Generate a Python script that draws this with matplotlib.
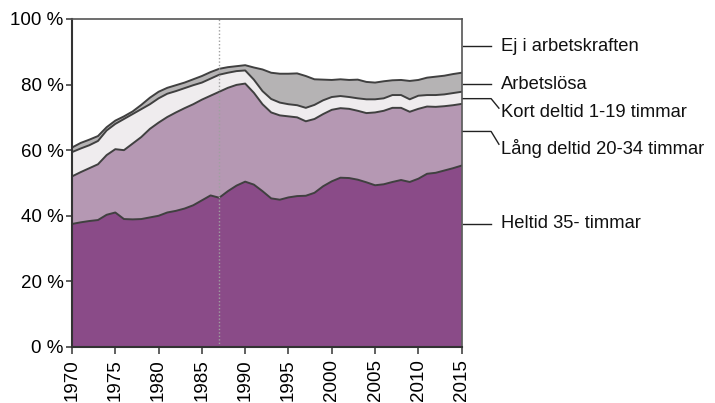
import numpy as np
import matplotlib
matplotlib.use("Agg")
import matplotlib.pyplot as plt

plt.rcParams['font.family'] = ['Liberation Sans', 'DejaVu Sans']

years = np.arange(1970, 2016)

# andel av befolkningen, procent
heltid = [37.5, 38.0, 38.4, 38.7, 40.3, 41.0, 39.0, 38.9, 39.0, 39.5,
          40.0, 41.0, 41.5, 42.2, 43.2, 44.7, 46.2, 45.5, 47.5, 49.2,
          50.4, 49.5, 47.5, 45.3, 44.9, 45.6, 46.0, 46.1, 47.0, 49.0,
          50.5, 51.6, 51.5, 51.0, 50.2, 49.3, 49.6, 50.3, 50.9, 50.3,
          51.3, 52.8, 53.1, 53.8, 54.5, 55.3]
lang_deltid = [14.5, 15.3, 16.1, 17.0, 18.2, 19.3, 21.0, 23.1, 25.0, 27.0,
               28.4, 29.1, 30.0, 30.6, 30.8, 30.7, 30.4, 32.3, 31.5, 30.7,
               29.9, 28.0, 26.5, 26.2, 25.7, 24.7, 24.0, 22.7, 22.5, 22.0,
               21.8, 21.2, 21.1, 21.0, 21.1, 22.2, 22.4, 22.6, 22.0, 21.4,
               21.3, 20.5, 20.1, 19.6, 19.2, 18.8]
kort_deltid = [7.4, 7.2, 7.0, 7.1, 7.5, 7.7, 9.5, 9.0, 8.5, 7.5,
               7.4, 7.1, 6.5, 6.1, 5.8, 5.2, 5.2, 5.2, 4.6, 4.2,
               4.0, 4.0, 4.0, 4.1, 3.9, 3.7, 3.7, 4.1, 4.3, 4.2,
               3.9, 3.7, 3.6, 3.8, 4.2, 4.0, 3.8, 3.9, 3.9, 3.8,
               4.0, 3.5, 3.6, 3.6, 3.7, 3.7]
arbetslosa = [1.4, 1.7, 1.7, 1.5, 1.0, 1.0, 0.8, 0.8, 1.3, 2.0,
              2.0, 1.8, 1.8, 1.7, 1.8, 2.0, 2.0, 1.8, 1.7, 1.5,
              1.6, 3.7, 6.6, 8.0, 8.8, 9.3, 9.7, 9.7, 7.8, 6.3,
              5.2, 5.1, 5.2, 5.7, 5.3, 5.1, 5.2, 4.5, 4.6, 5.6,
              4.8, 5.3, 5.6, 5.7, 5.8, 5.8]
ej_i_arbetskraften = 100 - (np.array(heltid) + np.array(lang_deltid)
                            + np.array(kort_deltid) + np.array(arbetslosa))

labels = ["Heltid 35- timmar", "Lång deltid 20-34 timmar",
          "Kort deltid 1-19 timmar", "Arbetslösa", "Ej i arbetskraften"]
colors = ["#8a4b88", "#b598b3", "#efecee", "#b5b3b4", "#ffffff"]

fig = plt.figure(figsize=(7.15, 4.03), dpi=100)
ax = fig.add_axes([0.1007, 0.139, 0.545, 0.814])

series = [heltid, lang_deltid, kort_deltid, arbetslosa, ej_i_arbetskraften]
ax.stackplot(years, *series, colors=colors, linewidth=0)

# dark boundary lines between layers
level = np.zeros(len(years))
for s in series[:-1]:
    level = level + np.array(s)
    ax.plot(years, level, color="#404040", lw=1.4, solid_joinstyle="round")

ax.axvline(1987, color="#a0a0a0", lw=1, ls=(0, (1, 1.5)))

ax.set_xlim(1970, 2015)
ax.set_ylim(0, 100)
ax.set_xticks(np.arange(1970, 2016, 5))
ax.set_yticks(np.arange(0, 101, 20))
ax.set_yticklabels([f"{v} %" for v in range(0, 101, 20)])
ax.tick_params(axis="x", rotation=90, labelsize=13.5, length=5, width=1.2,
               color="#444444", pad=4)
ax.tick_params(axis="y", labelsize=13.5, length=4, width=1.2,
               color="#444444", pad=2)

for side in ["left", "bottom"]:
    ax.spines[side].set_color("#333333")
    ax.spines[side].set_linewidth(1.5)
for side in ["top", "right"]:
    ax.spines[side].set_color("#555555")
    ax.spines[side].set_linewidth(1.2)

# labels to the right with leader lines: (line y, text y)
label_pos = [(37.5, 37.5), (65.7, 60.6), (75.7, 71.6), (80.1, 80.1), (91.6, 91.6)]
for lab, (ly, ty) in zip(labels, label_pos):
    if ly == ty:
        xs, ys = [2015.1, 2018.4], [ly, ly]
    else:
        xs, ys = [2015.1, 2018.4, 2019.3], [ly, ly, ty + 1.2]
    ax.plot(xs, ys, color="#222222", lw=1, clip_on=False)
    ax.text(2019.5, ty, lab, fontsize=13.2, va="center", ha="left", color="#111111")

fig.savefig("out.png", dpi=100)
